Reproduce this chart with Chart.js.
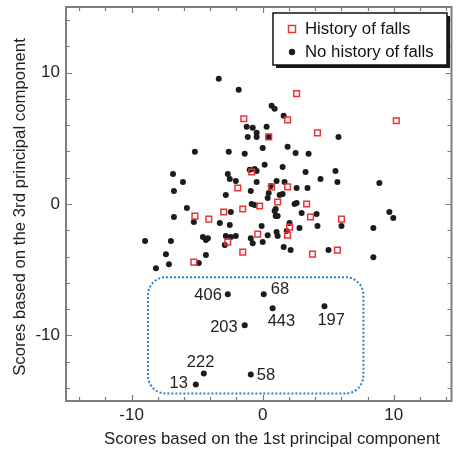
<!DOCTYPE html>
<html>
<head>
<meta charset="utf-8">
<script src="https://cdn.jsdelivr.net/npm/chart.js@4.4.1/dist/chart.umd.min.js"></script>
<style>
html,body{margin:0;padding:0;background:#fff;}
</style>
</head>
<body>
<canvas id="grafico" width="457" height="450"></canvas>
<script>
/* DADOS */
const quedasX = [2.59,-1.44,1.90,10.19,4.18,0.46,-0.84,-1.90,0.68,1.90,-2.97,-5.17,-4.11,-1.52,-0.23,1.14,3.35,3.65,6.01,2.05,-2.66,-0.38,1.90,-5.25,-1.52,3.80,5.70];
const quedasY = [8.40,6.49,6.41,6.34,5.42,5.11,2.44,1.22,1.30,1.30,-0.61,-0.92,-1.15,-0.38,-0.15,0.15,0.00,-0.99,-1.15,-1.76,-2.90,-2.29,-2.37,-4.43,-3.66,-3.82,-3.51];

const semQuedasX = [-3.35,-1.83,0.68,0.91,1.60,-1.22,-0.76,0.30,-0.46,-1.14,-0.46,0.46,5.78,-5.17,-2.59,-1.37,0.00,1.90,2.51,3.50,
  -6.84,-6.08,-6.77,-2.66,-2.51,-2.05,-2.81,-0.99,-0.61,-0.46,0.15,1.52,3.27,5.55,4.41,5.70,8.90,-0.46,0.61,1.06,1.67,2.59,3.42,
  -0.91,0.46,0.38,1.29,1.52,-5.78,-6.77,-5.25,-3.27,-2.51,-2.43,-0.84,-0.61,2.43,2.59,0.99,0.91,0.99,1.14,2.97,4.11,9.66,9.96,
  4.18,6.01,8.44,-0.08,2.05,2.81,-8.97,-7.00,-4.56,-4.33,-4.18,-2.81,-2.43,-2.05,-2.89,-0.91,-0.76,0.00,0.38,1.06,1.14,1.83,
  1.60,2.13,5.02,8.44,-7.38,-7.15,-8.14,-4.33,-4.87];
const semQuedasY = [9.54,8.70,7.48,7.25,6.72,5.88,5.80,5.88,5.42,5.11,5.11,5.11,5.11,3.97,3.97,3.82,4.27,4.35,3.89,3.82,
  2.29,1.68,0.99,2.29,1.91,1.76,0.69,2.60,2.67,2.52,2.98,2.82,2.44,2.52,1.91,1.68,1.60,1.68,1.37,1.76,1.68,1.22,1.22,
  0.99,0.84,0.46,0.69,0.76,-0.31,-0.99,-1.37,-1.45,-1.60,-0.61,0.00,-0.08,0.00,0.08,-0.38,-0.53,-0.92,-0.92,-0.69,-0.76,-0.61,-1.07,
  -1.68,-1.68,-1.83,-1.68,-1.45,-1.83,-2.82,-2.82,-2.52,-2.75,-2.60,-2.44,-2.52,-2.44,-3.13,-2.60,-2.98,-2.90,-2.37,-2.14,-2.44,-2.06,
  -3.28,-3.51,-3.51,-4.05,-3.82,-4.58,-4.89,-3.89,-4.50];

/* pontos destacados (sem quedas) */
const destaqueNomes = ["406","68","443","197","203","222","13","58"];
const destaqueX = [-2.66,0.08,0.76,4.71,-1.37,-4.49,-5.10,-0.91];
const destaqueY = [-6.87,-6.87,-7.94,-7.79,-9.24,-12.90,-13.74,-12.98];

/* eixos */
const ticksX = [-14,-12,-10,-8,-6,-4,-2,0,2,4,6,8,10,12,14];
const ticksY = [-14,-12,-10,-8,-6,-4,-2,0,2,4,6,8,10,12,14];
const ticksRotulo = [-10,0,10];
const caixaX = [-8.75,7.68];
const caixaY = [-5.57,-14.43];

const tituloX = "Scores based on the 1st principal component";
const tituloY = "Scores based on the 3rd principal component";
const legendaNomes = ["History of falls","No history of falls"];

/* estilo dos rótulos (deslocamento em px) */
const rotuloDx = [-6,7,-5,-7,-7,-17,-8,6];
const rotuloDy = [6,0,18,19,7,-6,4,6];
const rotuloAlinha = ["right","left","left","left","right","left","right","left"];

const VERMELHO = "#e8353b", PRETO = "#1c1c1c", CINZA = "#7d7d7d", AZUL = "#2f7fc6";
const FONTE = "Liberation Sans, Arial, Helvetica, sans-serif";

const pts = (xs,ys)=>xs.map((x,i)=>({x:x,y:ys[i]}));

/* PLUGIN: moldura, ticks internos, rótulos, legenda */
const extras = {
  id:"extras",
  beforeDatasetsDraw(chart){
    const ctx = chart.ctx, sx = chart.scales.x, sy = chart.scales.y;
    const x1 = sx.getPixelForValue(caixaX[0]), x2 = sx.getPixelForValue(caixaX[1]);
    const y1 = sy.getPixelForValue(caixaY[0]), y2 = sy.getPixelForValue(caixaY[1]);
    ctx.save();
    ctx.strokeStyle = AZUL;
    ctx.lineWidth = 2;
    ctx.setLineDash([2,2]);
    ctx.beginPath();
    ctx.roundRect(x1,y1,x2-x1,y2-y1,18);
    ctx.stroke();
    ctx.restore();
  },
  afterDraw(chart){
    const ctx = chart.ctx, a = chart.chartArea, sx = chart.scales.x, sy = chart.scales.y;
    ctx.save();
    // ticks internos
    ctx.strokeStyle = CINZA;
    ctx.lineWidth = 1.2;
    ticksX.forEach(v=>{
      const p = Math.round(sx.getPixelForValue(v))+0.5;
      const l = ticksRotulo.includes(v) ? 6 : 4;
      ctx.beginPath();
      ctx.moveTo(p,a.bottom); ctx.lineTo(p,a.bottom-l);
      ctx.moveTo(p,a.top); ctx.lineTo(p,a.top+l);
      ctx.stroke();
    });
    ticksY.forEach(v=>{
      const p = Math.round(sy.getPixelForValue(v))+0.5;
      const l = ticksRotulo.includes(v) ? 6 : 4;
      ctx.beginPath();
      ctx.moveTo(a.left,p); ctx.lineTo(a.left+l,p);
      ctx.moveTo(a.right,p); ctx.lineTo(a.right-l,p);
      ctx.stroke();
    });
    // moldura
    ctx.lineWidth = 2;
    ctx.strokeRect(a.left,a.top,a.right-a.left,a.bottom-a.top);

    // rótulos dos pontos
    ctx.fillStyle = "#222";
    ctx.font = "16.5px " + FONTE;
    ctx.textBaseline = "alphabetic";
    destaqueNomes.forEach((n,i)=>{
      const px = sx.getPixelForValue(destaqueX[i]), py = sy.getPixelForValue(destaqueY[i]);
      ctx.textAlign = rotuloAlinha[i];
      ctx.fillText(n, px+rotuloDx[i], py+rotuloDy[i]);
    });

    // títulos
    ctx.font = "16.8px " + FONTE;
    ctx.textAlign = "center";
    ctx.fillText(tituloX, 272, 444);
    ctx.save();
    ctx.translate(25, (a.top+a.bottom)/2+3);
    ctx.rotate(-Math.PI/2);
    ctx.fillText(tituloY, 0, 0);
    ctx.restore();

    // legenda
    ctx.fillStyle = "#1a1a1a";
    ctx.fillRect(276,16,174,52);
    ctx.fillStyle = "#fff";
    ctx.fillRect(273,13,174,52);
    ctx.strokeStyle = "#111";
    ctx.lineWidth = 1.5;
    ctx.strokeRect(273,13,174,52);
    ctx.strokeStyle = VERMELHO;
    ctx.lineWidth = 1.5;
    ctx.strokeRect(288.5,25.5,7,7);
    ctx.fillStyle = PRETO;
    ctx.beginPath(); ctx.arc(292,52,3.2,0,Math.PI*2); ctx.fill();
    ctx.fillStyle = "#111";
    ctx.font = "16.8px " + FONTE;
    ctx.textAlign = "left";
    ctx.fillText(legendaNomes[0], 305, 34);
    ctx.fillText(legendaNomes[1], 305, 57);
    ctx.restore();
  }
};

new Chart(document.getElementById("grafico"),{
  type:"scatter",
  data:{
    datasets:[
      {
        label:legendaNomes[1],
        data:pts(semQuedasX.concat(destaqueX), semQuedasY.concat(destaqueY)),
        pointStyle:"circle",
        pointRadius:3,
        pointBorderWidth:0,
        backgroundColor:PRETO,
        borderColor:PRETO,
        order:2
      },
      {
        label:legendaNomes[0],
        data:pts(quedasX,quedasY),
        pointStyle:"rect",
        pointRadius:4,
        pointBorderWidth:1.5,
        backgroundColor:"rgba(0,0,0,0)",
        borderColor:VERMELHO,
        order:1
      }
    ]
  },
  options:{
    responsive:false,
    animation:false,
    devicePixelRatio:1,
    layout:{padding:{top:7,right:5,left:0,bottom:0}},
    plugins:{legend:{display:false},tooltip:{enabled:false}},
    scales:{
      x:{
        type:"linear", min:-15, max:14.4,
        grid:{display:false, drawTicks:false},
        border:{display:false},
        afterBuildTicks:s=>{ s.ticks = ticksRotulo.map(v=>({value:v})); },
        afterFit:s=>{ s.height = 49; s.paddingLeft = 0; s.paddingRight = 0; },
        ticks:{padding:4, color:"#222", font:{family:FONTE,size:17}, callback:v=>String(v), maxRotation:0}
      },
      y:{
        type:"linear", min:-15, max:15,
        grid:{display:false, drawTicks:false},
        border:{display:false},
        afterBuildTicks:s=>{ s.ticks = ticksRotulo.map(v=>({value:v})); },
        afterFit:s=>{ s.width = 66; s.paddingTop = 0; s.paddingBottom = 0; },
        ticks:{padding:6, color:"#222", font:{family:FONTE,size:17}, callback:v=>String(v)}
      }
    }
  },
  plugins:[extras]
});
</script>
</body>
</html>
